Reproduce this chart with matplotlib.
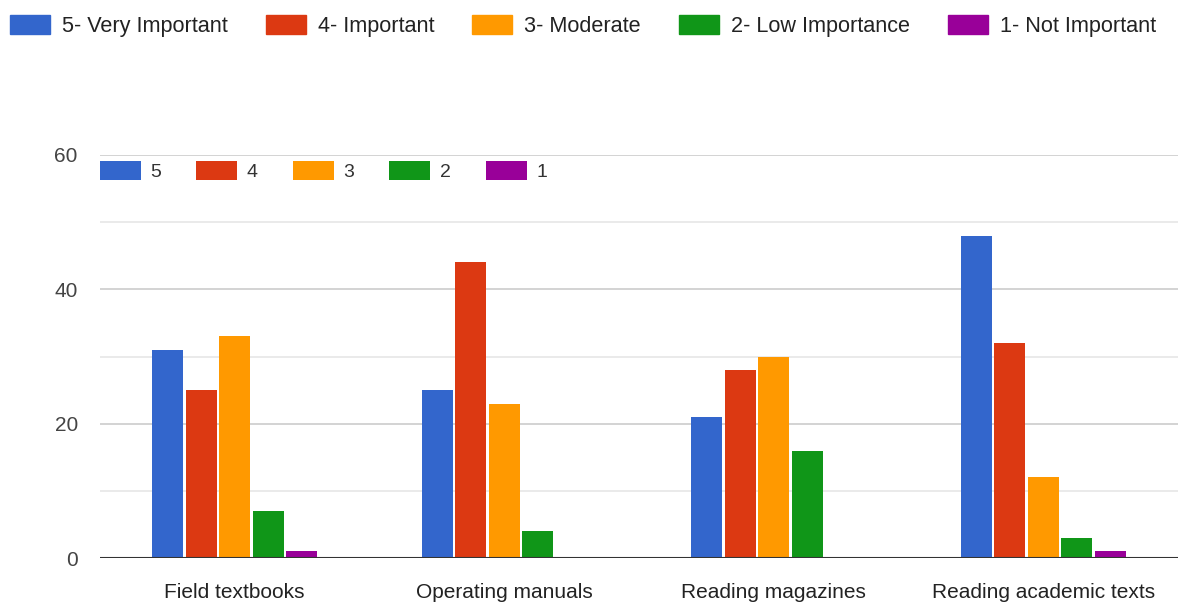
import matplotlib.pyplot as plt
import numpy as np
from matplotlib.patches import Patch

plt.rcParams['font.family'] = ['Liberation Sans', 'DejaVu Sans']

categories = ['Field textbooks', 'Operating manuals', 'Reading magazines', 'Reading academic texts']
ratings = ['5', '4', '3', '2', '1']
rating_names = ['5- Very Important', '4- Important', '3- Moderate', '2- Low Importance', '1- Not Important']
counts = {
    '5': [31, 25, 21, 48],
    '4': [25, 44, 28, 32],
    '3': [33, 23, 30, 12],
    '2': [7, 4, 16, 3],
    '1': [1, 0, 0, 1],
}
colors = ['#3366CC', '#DC3912', '#FF9900', '#109618', '#990099']

W, H = 1178, 604
fig = plt.figure(figsize=(W / 100, H / 100), dpi=100)
ax = fig.add_axes([100 / W, 46 / H, 1078 / W, 403 / H])

x = np.arange(len(categories))
pitch = 0.124
width = 0.115
for j, r in enumerate(ratings):
    ax.bar(x + (j - 2) * pitch, counts[r], width, color=colors[j], label=r, zorder=3)

ax.set_xlim(-0.5, 3.5)
ax.set_ylim(0, 60)
ax.set_yticks([0, 20, 40, 60])
ax.set_yticks([10, 30, 50], minor=True)
ax.grid(axis='y', which='major', color='#cccccc', lw=1.2, zorder=0)
ax.grid(axis='y', which='minor', color='#e6e6e6', lw=1.2, zorder=0)
ax.axhline(0, color='#333333', lw=1.5, zorder=4)
for s in ax.spines.values():
    s.set_visible(False)
ax.set_xticks(x)
ax.set_xticklabels(categories, fontsize=15, color='#222222')
ax.tick_params(axis='x', length=0, pad=18)
ax.tick_params(axis='y', which='both', length=0, pad=16, labelsize=15, labelcolor='#444444')

# series legend inside the plot
ax.legend(loc='center left', bbox_to_anchor=(0, 1 - 16 / 403), ncol=5, frameon=False,
          fontsize=14, handlelength=2.1, handleheight=1.15, handletextpad=0.5,
          columnspacing=1.8, borderpad=0, borderaxespad=0, labelcolor='#333333')

# rating scale key across the top
handles = [Patch(color=c) for c in colors]
fig.legend(handles, rating_names, loc='center left', bbox_to_anchor=(10 / W, 1 - 26 / H),
           ncol=5, frameon=False, fontsize=15.6, handlelength=1.85, handleheight=1.0,
           handletextpad=0.55, columnspacing=1.75, borderpad=0, borderaxespad=0,
           labelcolor='#222222')

fig.savefig('out.png', dpi=100)
